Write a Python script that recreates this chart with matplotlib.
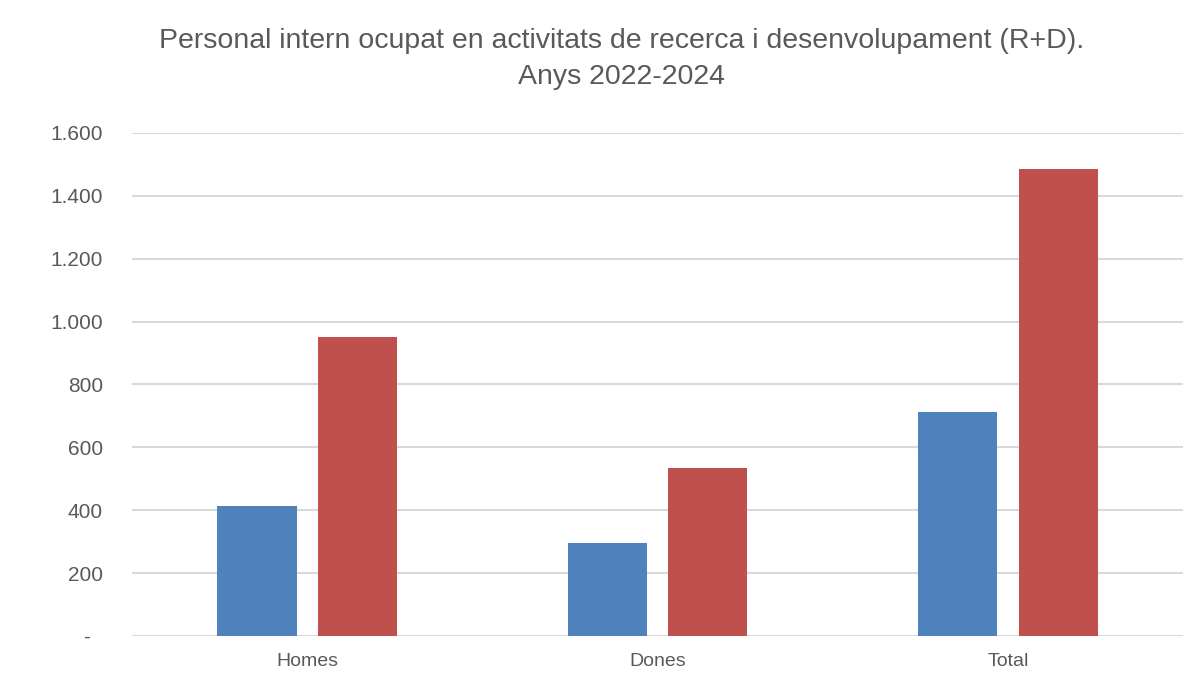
import matplotlib
matplotlib.use("Agg")
import matplotlib.pyplot as plt
import numpy as np
from matplotlib.ticker import FuncFormatter

categories = ["Homes", "Dones", "Total"]
series_names = ["2022", "2024"]
values_2022 = [415, 297, 712]
values_2024 = [952, 533, 1484]
y_ticks = [0, 200, 400, 600, 800, 1000, 1200, 1400, 1600]

title_line1 = "Personal intern ocupat en activitats de recerca i desenvolupament (R+D)."
title_line2 = "Anys 2022-2024"

blue = "#4F81BD"
red = "#C0504D"
grid_col = "#D9D9D9"
text_col = "#595959"

fig = plt.figure(figsize=(12, 6.75), dpi=100)
ax = fig.add_axes([0.11, 0.0578, 0.876, 0.7452])

x = np.arange(len(categories))
w = 0.226
off = 0.143
ax.bar(x - off, values_2022, width=w, color=blue, label=series_names[0], zorder=3)
ax.bar(x + off, values_2024, width=w, color=red, label=series_names[1], zorder=3)

ax.set_xlim(-0.5, 2.5)
ax.set_ylim(0, 1600)
ax.set_yticks(y_ticks)

def fmt(v, pos):
    if v == 0:
        return "-  "
    return f"{int(v):,}".replace(",", ".")

ax.yaxis.set_major_formatter(FuncFormatter(fmt))
ax.grid(axis="y", color=grid_col, linewidth=1.5, zorder=0)
ax.set_axisbelow(True)
for s in ax.spines.values():
    s.set_visible(False)
ax.tick_params(axis="y", length=0, pad=21, labelsize=15, labelcolor=text_col)
for lbl in ax.get_yticklabels():
    lbl.set_family(["Liberation Sans", "DejaVu Sans"])
ax.set_xticks(x)
ax.set_xticklabels(categories)
ax.tick_params(axis="x", length=0, pad=12, labelsize=14, labelcolor=text_col)
for lbl in ax.get_xticklabels():
    lbl.set_family(["Liberation Sans", "DejaVu Sans"])

fig.text(0.518, 0.94, title_line1, ha="center", va="center", fontsize=20.5,
         color=text_col, family=["Liberation Sans", "DejaVu Sans"])
fig.text(0.518, 0.886, title_line2, ha="center", va="center", fontsize=20.5,
         color=text_col, family=["Liberation Sans", "DejaVu Sans"])

fig.savefig("out.png", dpi=100)
